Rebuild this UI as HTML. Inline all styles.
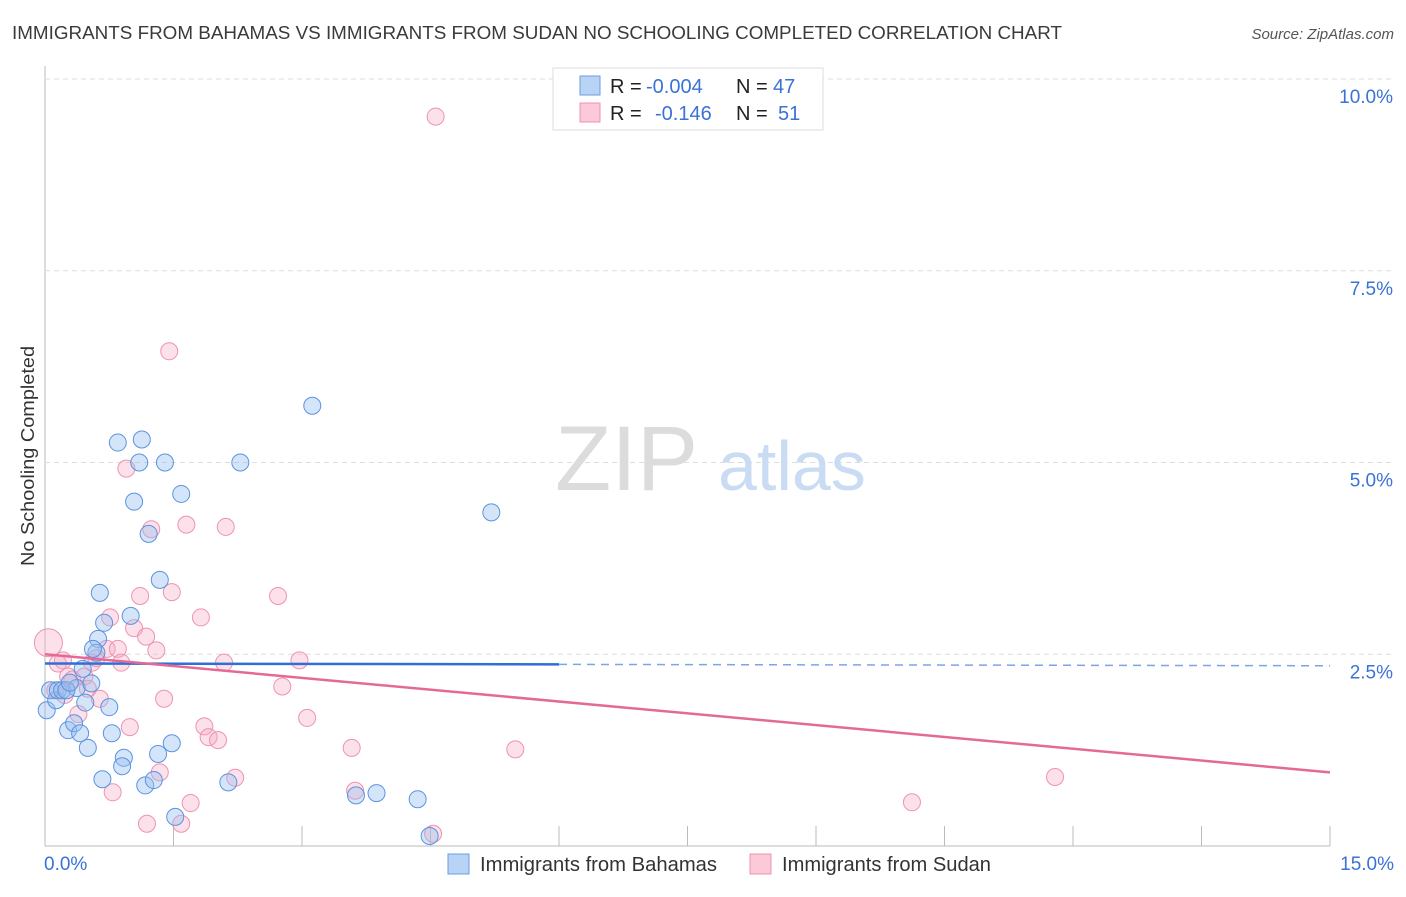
<!DOCTYPE html>
<html><head><meta charset="utf-8"><style>
body{margin:0;background:#fff;font-family:"Liberation Sans",sans-serif;}
svg text{font-family:"Liberation Sans",sans-serif;}
</style></head><body>
<svg id="chart" width="1406" height="892" xmlns="http://www.w3.org/2000/svg">
<text x="12" y="39" font-size="18" fill="#3a3a3a" textLength="1050" lengthAdjust="spacingAndGlyphs">IMMIGRANTS FROM BAHAMAS VS IMMIGRANTS FROM SUDAN NO SCHOOLING COMPLETED CORRELATION CHART</text>
<text x="1394" y="39" font-size="15" fill="#555" text-anchor="end" font-style="italic">Source: ZipAtlas.com</text>
<text transform="translate(34,456) rotate(-90)" font-size="18" fill="#333" text-anchor="middle" textLength="220" lengthAdjust="spacingAndGlyphs">No Schooling Completed</text>
<g id="grid"></g>
<text x="555" y="490" font-size="92" fill="#dcdcdc" font-family="Liberation Serif">ZIP</text>
<text x="718" y="490" font-size="70" fill="#c9dcf3">atlas</text>
<g id="marks"></g>
<g id="lines"></g>
<g>
<rect x="553" y="68" width="270" height="62" fill="#fff" stroke="#ddd"/>
<rect x="580" y="76" width="20" height="19" fill="#b9d3f5" stroke="#6a9ee6"/>
<rect x="580" y="103" width="20" height="19" fill="#fbc9d8" stroke="#ee93b0"/>
<text x="610" y="93" font-size="20" fill="#222">R =</text>
<text x="646" y="93" font-size="20" fill="#3a72d6">-0.004</text>
<text x="736" y="93" font-size="20" fill="#222">N =</text>
<text x="773" y="93" font-size="20" fill="#3a72d6">47</text>
<text x="610" y="120" font-size="20" fill="#222">R =</text>
<text x="655" y="120" font-size="20" fill="#3a72d6">-0.146</text>
<text x="736" y="120" font-size="20" fill="#222">N =</text>
<text x="778" y="120" font-size="20" fill="#3a72d6">51</text>
</g>
<g>
<rect x="448" y="854" width="21" height="20" fill="#b9d3f5" stroke="#6a9ee6"/>
<text x="480" y="871" font-size="20" fill="#333" textLength="237" lengthAdjust="spacingAndGlyphs">Immigrants from Bahamas</text>
<rect x="750" y="854" width="21" height="20" fill="#fbc9d8" stroke="#ee93b0"/>
<text x="782" y="871" font-size="20" fill="#333" textLength="209" lengthAdjust="spacingAndGlyphs">Immigrants from Sudan</text>
</g>
</svg>
<script>
const xTicks=[0,1.5,3,4.5,6,7.5,9,10.5,12,13.5,15];
const yTicks=[2.5,5,7.5,10];
const yTickLabels=["2.5%","5.0%","7.5%","10.0%"];
const xLabels=["0.0%","15.0%"];
const bahamasX=[0.02,0.13,0.06,0.15,0.20,0.27,0.34,0.41,0.50,0.37,0.54,0.47,0.64,0.62,0.69,0.60,0.75,0.78,0.67,0.85,1.13,1.10,1.40,1.04,1.21,1.59,2.28,1.00,1.34,0.92,0.90,1.32,1.48,1.17,1.27,1.52,2.14,3.12,3.63,3.87,4.35,4.49,5.21,0.44,0.56,0.25,0.29];
const bahamasY=[1.77,1.90,2.03,2.03,2.03,1.51,1.60,1.47,1.28,2.06,2.12,1.87,3.30,2.70,2.91,2.52,1.81,1.47,0.87,5.26,5.30,5.00,5.00,4.49,4.07,4.59,5.00,3.00,3.47,1.15,1.04,1.20,1.34,0.79,0.86,0.38,0.83,5.74,0.66,0.69,0.61,0.13,4.35,2.31,2.57,2.03,2.13];
const sudanX=[0.04,0.12,0.21,0.27,0.32,0.39,0.46,0.55,0.64,0.76,0.72,0.85,0.95,0.89,0.99,1.11,1.04,1.18,1.24,1.30,1.39,1.45,1.48,1.65,1.82,1.86,1.91,2.02,2.11,2.09,2.22,1.34,0.79,1.19,1.59,1.70,2.72,2.77,2.97,3.06,3.58,3.62,4.53,4.56,5.49,10.12,11.79,0.23,0.50,0.15,0.60];
const sudanY=[2.65,2.03,2.42,2.21,2.17,1.72,2.21,2.39,1.92,2.98,2.57,2.57,4.92,2.39,1.55,3.26,2.84,2.73,4.13,2.55,1.92,6.45,3.31,4.19,2.98,1.56,1.42,1.38,4.16,2.39,0.89,0.96,0.70,0.29,0.29,0.56,3.26,2.08,2.42,1.67,1.28,0.72,0.16,9.51,1.26,0.57,0.90,1.97,2.05,2.38,2.45];
const bahamasTrend=[2.38,2.35];
const sudanTrend=[2.5,0.96];
const NS="http://www.w3.org/2000/svg";
const X0=45,X1=1330,Y0=846,Y10=79;
function xs(v){return X0+(v/15)*(X1-X0);}
function ys(v){return Y0-(v/10)*(Y0-Y10);}
function mk(tag,attrs,parent){const e=document.createElementNS(NS,tag);for(const k in attrs)e.setAttribute(k,attrs[k]);parent.appendChild(e);return e;}
const grid=document.getElementById('grid');
const axis=mk('line',{x1:X0,y1:66,x2:X0,y2:Y0,stroke:'#bbb'},grid);


const xaxis=mk('line',{x1:X0,y1:Y0,x2:X1,y2:Y0,stroke:'#bbb'},grid);


yTicks.forEach((t,i)=>{
 const g=mk('line',{x1:X0,y1:ys(t),x2:1394,y2:ys(t),stroke:'#ddd','stroke-dasharray':'5,4'},grid);
 
 
 const l=mk('text',{x:1393,y:ys(t)+24,'font-size':19,fill:'#3a72d6','text-anchor':'end'},grid);
 l.textContent=yTickLabels[i];
 
 
});
xTicks.forEach(t=>{
 const tk=mk('line',{x1:xs(t),y1:Y0-20,x2:xs(t),y2:Y0,stroke:'#bbb'},grid);
 
 
});
[[0,xLabels[0],'start',44],[15,xLabels[1],'end',1394]].forEach(a=>{
 const l=mk('text',{x:a[3],y:870,'font-size':19,fill:'#3a72d6','text-anchor':a[2]},grid);
 l.textContent=a[1];
 
 
});
const marks=document.getElementById('marks');
sudanX.forEach((v,i)=>{
 const c=mk('circle',{cx:xs(v),cy:ys(sudanY[i]),r:i==0?14:8.5,fill:'rgba(246,170,195,0.35)',stroke:'#ee93b0','stroke-width':1},marks);
 
 
});
bahamasX.forEach((v,i)=>{
 const c=mk('circle',{cx:xs(v),cy:ys(bahamasY[i]),r:8.5,fill:'rgba(150,190,240,0.4)',stroke:'#5b93e0','stroke-width':1},marks);
 
 
});
const lines=document.getElementById('lines');
const bl=mk('line',{x1:xs(0),y1:ys(bahamasTrend[0]),x2:xs(6),y2:ys(bahamasTrend[0]+(bahamasTrend[1]-bahamasTrend[0])*0.4),stroke:'#2f6fd6','stroke-width':2.5},lines);


const bd=mk('line',{x1:xs(6),y1:ys(bahamasTrend[0]+(bahamasTrend[1]-bahamasTrend[0])*0.4),x2:xs(15),y2:ys(bahamasTrend[1]),stroke:'#7aa6e6','stroke-width':1.5,'stroke-dasharray':'8,6'},lines);


const sl=mk('line',{x1:xs(0),y1:ys(sudanTrend[0]),x2:xs(15),y2:ys(sudanTrend[1]),stroke:'#e46a96','stroke-width':2.5},lines);


</script>
</body></html>
